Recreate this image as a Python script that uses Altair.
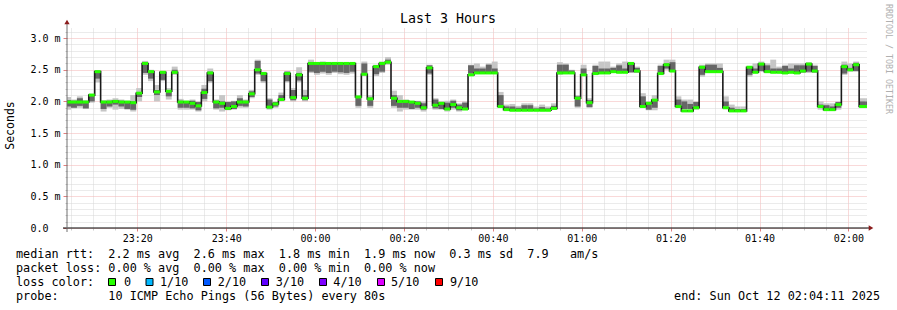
import altair as alt
import pandas as pd

# ---------------- data (ms, one value per 80 s step) ----------------
STEP = 80          # seconds per sample
T0 = 225           # first sample start, seconds after 23:00:00
START = 251        # 23:04:11
END = 11051        # 02:04:11

median_ms = [
    1.99, 1.99, 1.99, 1.99, 2.10, 2.47, 1.99, 1.99, 2.00, 1.99,
    1.99, 1.98, 2.13, 2.60, 2.47, 2.15, 2.46, 2.16, 2.46, 1.99,
    1.99, 1.97, 1.93, 2.14, 2.45, 1.99, 1.97, 1.89, 1.92, 1.99,
    1.99, 2.12, 2.50, 2.44, 1.91, 1.96, 2.03, 2.44, 2.06, 2.42,
    2.05, 2.60, 2.60, 2.60, 2.60, 2.60, 2.60, 2.60, 2.60, 2.07,
    2.43, 2.04, 2.55, 2.60, 2.62, 2.05, 2.00, 2.00, 1.99, 1.97,
    1.90, 2.53, 1.94, 1.97, 1.88, 1.95, 1.90, 1.88, 2.42, 2.45,
    2.45, 2.45, 2.45, 1.92, 1.87, 1.86, 1.86, 1.86, 1.86, 1.86,
    1.86, 1.86, 1.89, 2.45, 2.45, 2.45, 2.05, 2.42, 1.98, 2.44,
    2.45, 2.45, 2.47, 2.46, 2.46, 2.60, 2.48, 1.92, 1.97, 2.02,
    2.44, 2.58, 2.48, 1.92, 1.85, 1.85, 1.90, 2.54, 2.47, 2.47,
    2.47, 1.90, 1.85, 1.85, 1.85, 2.54, 2.46, 2.59, 2.47, 2.46,
    2.46, 2.45, 2.46, 2.45, 2.48, 2.59, 2.48, 1.92, 1.87, 1.87,
    1.95, 2.55, 2.50, 2.58, 1.92, 1.92,
]

smoke_min = [
    1.87, 1.89, 1.90, 1.88, 1.98, 2.30, 1.84, 1.90, 1.87, 1.88,
    1.87, 1.84, 2.00, 2.42, 2.32, 2.00, 2.32, 2.03, 2.42, 1.87,
    1.87, 1.87, 1.84, 2.00, 2.29, 1.87, 1.84, 1.86, 1.87, 1.90,
    1.90, 2.05, 2.42, 2.29, 1.87, 1.90, 2.00, 2.30, 2.00, 2.30,
    2.00, 2.45, 2.42, 2.44, 2.42, 2.45, 2.43, 2.42, 2.44, 1.90,
    2.40, 1.90, 2.40, 2.45, 2.58, 1.90, 1.84, 1.87, 1.87, 1.87,
    1.84, 2.42, 1.87, 1.87, 1.84, 1.87, 1.84, 1.87, 2.42, 2.45,
    2.45, 2.45, 2.45, 1.90, 1.87, 1.87, 1.85, 1.85, 1.87, 1.85,
    1.85, 1.85, 1.87, 2.42, 2.45, 2.45, 1.90, 2.42, 1.90, 2.42,
    2.45, 2.45, 2.45, 2.45, 2.45, 2.45, 2.45, 1.90, 1.86, 1.86,
    2.42, 2.50, 2.47, 1.90, 1.87, 1.87, 1.87, 2.39, 2.47, 2.47,
    2.47, 1.90, 1.85, 1.85, 1.85, 2.39, 2.45, 2.47, 2.45, 2.45,
    2.45, 2.45, 2.45, 2.45, 2.45, 2.45, 2.45, 1.87, 1.85, 1.85,
    1.87, 2.42, 2.47, 2.47, 1.90, 1.90,
]

smoke_max = [
    2.07, 2.03, 2.08, 2.02, 2.12, 2.49, 2.02, 2.03, 2.05, 2.03,
    2.01, 2.10, 2.21, 2.64, 2.50, 2.26, 2.48, 2.21, 2.55, 2.04,
    2.01, 2.03, 2.00, 2.26, 2.52, 2.03, 2.10, 2.00, 2.01, 2.10,
    2.03, 2.18, 2.66, 2.47, 2.05, 2.00, 2.14, 2.48, 2.21, 2.54,
    2.18, 2.66, 2.62, 2.63, 2.61, 2.62, 2.61, 2.62, 2.60, 2.10,
    2.63, 2.10, 2.58, 2.63, 2.70, 2.17, 2.10, 2.03, 2.00, 2.01,
    2.00, 2.58, 2.05, 2.00, 2.01, 2.03, 1.97, 2.00, 2.58, 2.60,
    2.55, 2.60, 2.63, 2.15, 1.95, 1.96, 1.93, 1.97, 1.97, 1.92,
    1.95, 1.92, 1.97, 2.62, 2.60, 2.50, 2.10, 2.58, 2.05, 2.58,
    2.63, 2.63, 2.55, 2.60, 2.63, 2.62, 2.55, 2.13, 2.00, 2.10,
    2.58, 2.66, 2.66, 2.08, 2.03, 2.03, 2.00, 2.58, 2.60, 2.60,
    2.60, 2.08, 1.95, 1.92, 1.92, 2.55, 2.60, 2.63, 2.60, 2.66,
    2.55, 2.58, 2.60, 2.60, 2.60, 2.62, 2.58, 2.00, 1.97, 1.97,
    2.00, 2.63, 2.60, 2.63, 2.05, 2.05,
]

core_lo = [
    1.92, 1.90, 1.93, 1.89, 2.00, 2.36, 1.88, 1.92, 1.95, 1.92,
    1.88, 1.87, 2.07, 2.45, 2.36, 2.10, 2.34, 2.08, 2.44, 1.90,
    1.90, 1.89, 1.86, 2.04, 2.32, 1.89, 1.90, 1.87, 1.88, 1.93,
    1.92, 2.07, 2.44, 2.32, 1.89, 1.92, 2.02, 2.32, 2.02, 2.33,
    2.02, 2.47, 2.45, 2.47, 2.45, 2.47, 2.46, 2.45, 2.47, 1.93,
    2.42, 1.93, 2.43, 2.47, 2.60, 1.93, 1.90, 1.90, 1.88, 1.90,
    1.87, 2.44, 1.89, 1.88, 1.87, 1.90, 1.86, 1.89, 2.44, 2.46,
    2.46, 2.46, 2.46, 1.92, 1.87, 1.87, 1.86, 1.86, 1.87, 1.86,
    1.86, 1.86, 1.88, 2.45, 2.46, 2.46, 1.92, 2.43, 1.91, 2.44,
    2.46, 2.46, 2.46, 2.46, 2.46, 2.46, 2.46, 1.92, 1.87, 1.90,
    2.44, 2.52, 2.48, 1.92, 1.88, 1.88, 1.88, 2.42, 2.48, 2.48,
    2.48, 1.92, 1.86, 1.86, 1.86, 2.42, 2.46, 2.48, 2.46, 2.46,
    2.46, 2.46, 2.46, 2.46, 2.46, 2.47, 2.46, 1.90, 1.86, 1.86,
    1.90, 2.44, 2.48, 2.48, 1.92, 1.92,
]

core_hi = [
    2.02, 2.01, 2.05, 2.00, 2.10, 2.47, 2.00, 2.01, 2.01, 2.01,
    2.00, 2.00, 2.14, 2.62, 2.47, 2.18, 2.47, 2.17, 2.50, 2.01,
    2.00, 2.01, 1.99, 2.20, 2.47, 2.01, 2.00, 1.99, 2.00, 2.05,
    2.01, 2.16, 2.64, 2.45, 2.03, 1.99, 2.10, 2.47, 2.18, 2.45,
    2.10, 2.62, 2.60, 2.61, 2.59, 2.60, 2.59, 2.60, 2.59, 2.07,
    2.60, 2.06, 2.55, 2.62, 2.66, 2.10, 1.98, 2.01, 2.00, 2.00,
    1.97, 2.57, 2.03, 1.99, 1.98, 2.01, 1.95, 1.98, 2.57, 2.52,
    2.52, 2.58, 2.52, 2.10, 1.92, 1.92, 1.90, 1.94, 1.94, 1.89,
    1.91, 1.89, 1.93, 2.58, 2.58, 2.49, 2.08, 2.52, 2.02, 2.56,
    2.52, 2.52, 2.53, 2.57, 2.52, 2.59, 2.53, 2.08, 1.98, 2.02,
    2.56, 2.60, 2.62, 2.03, 2.00, 1.96, 1.99, 2.56, 2.58, 2.58,
    2.53, 2.00, 1.90, 1.88, 1.88, 2.54, 2.52, 2.60, 2.57, 2.52,
    2.52, 2.56, 2.52, 2.57, 2.57, 2.60, 2.56, 1.95, 1.94, 1.92,
    1.99, 2.58, 2.53, 2.61, 2.00, 2.00,
]

# axis ticks (seconds after 23:00 / ms)
x_major_ticks = [1200, 2400, 3600, 4800, 6000, 7200, 8400, 9600, 10800]
x_minor_ticks = [300, 600, 900, 1500, 1800, 2100, 2700, 3000, 3300, 3900, 4200, 4500,
                 5100, 5400, 5700, 6300, 6600, 6900, 7500, 7800, 8100, 8700, 9000,
                 9300, 9900, 10200, 10500]
y_major_ticks = [0.0, 0.5, 1.0, 1.5, 2.0, 2.5, 3.0]
y_minor_ticks = [0.1, 0.2, 0.3, 0.4, 0.6, 0.7, 0.8, 0.9, 1.1, 1.2, 1.3, 1.4,
                 1.6, 1.7, 1.8, 1.9, 2.1, 2.2, 2.3, 2.4, 2.6, 2.7, 2.8, 2.9, 3.1]

title_text = "Last 3 Hours"
y_title = "Seconds"
credit = "RRDTOOL / TOBI OETIKER"
line_rtt = "median rtt:  2.2 ms avg  2.6 ms max  1.8 ms min  1.9 ms now  0.3 ms sd  7.9   am/s"
line_loss = "packet loss: 0.00 % avg  0.00 % max  0.00 % min  0.00 % now"
line_lossc = "loss color:"
line_probe = "probe:       10 ICMP Echo Pings (56 Bytes) every 80s"
line_end = "end: Sun Oct 12 02:04:11 2025"
loss_labels = ["0", "1/10", "2/10", "3/10", "4/10", "5/10", "9/10"]
loss_colors = ["#26ff00", "#00b8ff", "#0059ff", "#5e00ff", "#7e00ff", "#dd00ff", "#ff0000"]

# ---------------- build ----------------
n = len(median_ms)
t_start = [T0 + STEP * i for i in range(n)]
t_end = [t + STEP for t in t_start]
df = pd.DataFrame(dict(t=t_start, t2=t_end, med=median_ms, lo=smoke_min,
                       hi=smoke_max, clo=core_lo, chi=core_hi))
line_df = pd.DataFrame(dict(t=t_start + [t_end[-1]], med=median_ms + [median_ms[-1]]))

MONO = "DejaVu Sans Mono"
xs = alt.Scale(domain=[START, END], nice=False, zero=False)
ys = alt.Scale(domain=[0, 3.16], nice=False, zero=False)

GRID_MINOR = "#d6d6d6"
GRID_MAJOR = "#f2b2b2"

x_minor_axis = alt.Axis(values=x_minor_ticks, grid=True, gridColor=GRID_MINOR, gridDash=[1, 1],
                        gridWidth=1, labels=False, domain=False, tickColor="#c8c8c8",
                        tickSize=2, title=None, orient="bottom")
y_minor_axis = alt.Axis(values=y_minor_ticks, grid=True, gridColor=GRID_MINOR, gridDash=[1, 1],
                        gridWidth=1, labels=False, domain=False, tickColor="#c8c8c8",
                        tickSize=2, title=None, orient="left")
x_major_axis = alt.Axis(values=x_major_ticks, grid=True, gridColor=GRID_MAJOR, gridDash=[1, 1],
                        gridWidth=1, domain=False, tickColor="#e08080", tickSize=3,
                        labelFont=MONO, labelFontSize=10, labelColor="#000000",
                        labelBaseline="middle", labelPadding=7, labelFlush=False,
                        labelExpr="timeFormat(datetime(2025, 9, 11, 23, 0, datum.value), '%H:%M')",
                        title=None, orient="bottom")
y_major_axis = alt.Axis(values=y_major_ticks, grid=True, gridColor=GRID_MAJOR, gridDash=[1, 1],
                        gridWidth=1, domain=False, tickColor="#e08080", tickSize=4,
                        labelFont=MONO, labelFontSize=10, labelColor="#000000",
                        labelAlign="left", labelBaseline="middle", labelPadding=33,
                        labelFlush=False,
                        labelExpr="datum.value == 0 ? '0.0' : format(datum.value, '.1f') + ' m'",
                        title=None, orient="left")

smoke_outer = alt.Chart(df).mark_rect(color="#c6c6c6", clip=True).encode(
    x=alt.X("t:Q", scale=xs, axis=x_minor_axis),
    x2="t2:Q",
    y=alt.Y("lo:Q", scale=ys, axis=y_minor_axis),
    y2="hi:Q",
)
smoke_core = alt.Chart(df).mark_rect(color="#666666", clip=True).encode(
    x=alt.X("t:Q", scale=xs, axis=None),
    x2="t2:Q",
    y=alt.Y("clo:Q", scale=ys, axis=None),
    y2="chi:Q",
)
median_line = alt.Chart(line_df).mark_line(interpolate="step-after", color="#1a1a1a",
                                           strokeWidth=1.6, clip=True).encode(
    x=alt.X("t:Q", scale=xs, axis=x_major_axis),
    y=alt.Y("med:Q", scale=ys, axis=y_major_axis),
)
median_green = alt.Chart(df).mark_rule(color=loss_colors[0], strokeWidth=3, strokeCap="butt",
                                       clip=True).encode(
    x=alt.X("t:Q", scale=xs, axis=None),
    x2="t2:Q",
    y=alt.Y("med:Q", scale=ys, axis=None),
)

one = pd.DataFrame({"k": [0]})
OX, OY = 67, 28  # plot origin in page pixels


def nb(s):
    return s.replace(" ", "\u00a0")


def txt(s, px, py, size=11.8, align="left", color="#000000", angle=0, baseline="middle"):
    kw = dict(text=nb(s), font=MONO, fontSize=size, align=align, baseline=baseline,
              color=color)
    if angle:
        kw["angle"] = angle
    return alt.Chart(one).mark_text(**kw).encode(x=alt.value(px - OX), y=alt.value(py - OY))


layers = [smoke_outer, smoke_core, median_line, median_green]

# axis lines and arrows
layers.append(alt.Chart(one).mark_rule(color="#000000", strokeWidth=1).encode(
    x=alt.value(-4), x2=alt.value(803), y=alt.value(200)))
layers.append(alt.Chart(one).mark_rule(color="#707070", strokeWidth=1).encode(
    x=alt.value(0), y=alt.value(-5), y2=alt.value(204)))
layers.append(alt.Chart(one).mark_point(shape="triangle-right", filled=True, size=28,
                                        color="#8b1c1c", opacity=1).encode(
    x=alt.value(804), y=alt.value(200)))
layers.append(alt.Chart(one).mark_point(shape="triangle-up", filled=True, size=28,
                                        color="#8b1c1c", opacity=1).encode(
    x=alt.value(0), y=alt.value(-6)))

# texts
layers.append(txt(title_text, 448, 19, size=13.3, align="center"))
layers.append(txt(y_title, 11, 125.5, size=11.5, align="center", angle=270))
layers.append(txt(credit, 887.5, 59, size=8.3, align="center", color="#b0b0b0", angle=90))
layers.append(txt(line_rtt, 16, 254))
layers.append(txt(line_loss, 16, 268.3))
layers.append(txt(line_lossc, 16, 282.3))
layers.append(txt(line_probe, 16, 296))
layers.append(txt(line_end, 880, 296, align="right"))

swatch_x = [108.5, 146, 203.5, 261.5, 319.5, 377.5, 435.5]
label_x = [124, 160, 217.7, 275.7, 333.3, 391, 450]
for sx, lx, lab, col in zip(swatch_x, label_x, loss_labels, loss_colors):
    layers.append(alt.Chart(one).mark_rect(color=col, stroke="#000000", strokeWidth=1).encode(
        x=alt.value(sx - OX), x2=alt.value(sx - OX + 7),
        y=alt.value(278.5 - OY), y2=alt.value(285.5 - OY)))
    layers.append(txt(lab, lx, 282.3))

chart = alt.layer(*layers).resolve_axis(x="independent", y="independent").properties(
    width=800, height=200,
    padding={"left": OX, "top": OY, "right": 897 - OX - 800, "bottom": 310 - OY - 200},
    autosize=alt.AutoSizeParams(type="none"),
    background="#ffffff",
).configure_view(strokeWidth=0)

chart.save("out.html", embed_options={"renderer": "svg", "actions": False})
